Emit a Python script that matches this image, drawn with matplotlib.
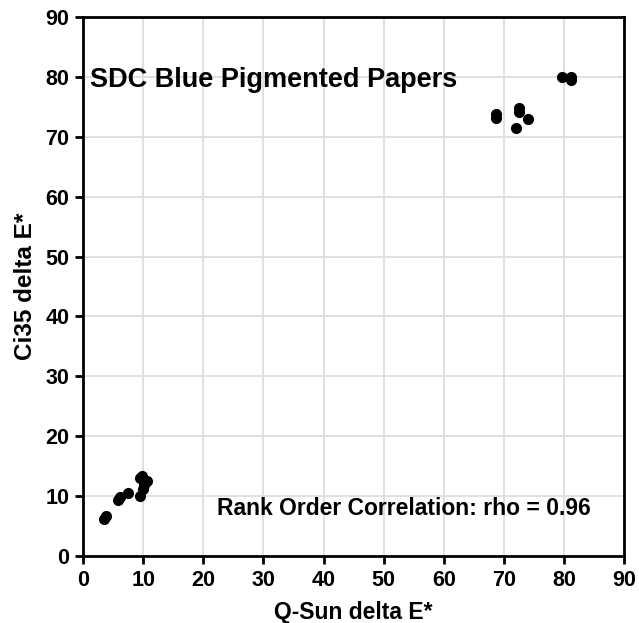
import matplotlib
matplotlib.use('Agg')
import matplotlib.pyplot as plt

# Q-Sun delta E* (x) vs Ci35 delta E* (y)
qsun = [3.5, 3.8, 5.8, 6.2, 7.4, 9.4, 9.9, 10.1, 9.5, 9.8, 10.6,
        68.6, 68.6, 72.5, 72.5, 74.0, 72.0, 79.7, 81.1, 81.1]
ci35 = [6.2, 6.6, 9.3, 9.8, 10.5, 10.1, 11.2, 11.8, 13.1, 13.4, 12.6,
        73.2, 73.8, 74.2, 74.8, 73.0, 71.4, 79.9, 79.4, 79.9]

title = 'SDC Blue Pigmented Papers'
note = 'Rank Order Correlation: rho = 0.96'
ticks = [0, 10, 20, 30, 40, 50, 60, 70, 80, 90]

plt.rcParams['font.family'] = ['Liberation Sans', 'DejaVu Sans']
plt.rcParams['font.weight'] = 'bold'

fig = plt.figure(figsize=(6.39, 6.23), dpi=100)
ax = fig.add_axes([0.130, 0.1075, 0.847, 0.8652])

ax.plot(qsun, ci35, 'o', color='black', markersize=7, zorder=3)

ax.set_xlim(0, 90)
ax.set_ylim(0, 90)
ax.set_xticks(ticks)
ax.set_yticks(ticks)
ax.grid(True, color='#dddddd', linewidth=1.3, zorder=0)
ax.set_axisbelow(True)
for s in ax.spines.values():
    s.set_linewidth(2)
ax.tick_params(width=2, length=6, labelsize=15.5, direction='out', pad=4)
for lab in ax.get_xticklabels() + ax.get_yticklabels():
    lab.set_fontweight('bold')

ax.set_xlabel('Q-Sun delta E*', fontsize=16.5, fontweight='bold', labelpad=7)
ax.set_ylabel('Ci35 delta E*', fontsize=17.5, fontweight='bold', labelpad=6)

ax.text(1.2, 79.5, title, fontsize=19.5, fontweight='bold', va='center', ha='left')
ax.text(22.3, 8.0, note, fontsize=16.5, fontweight='bold', va='center', ha='left')

plt.savefig('out.png', format='png')
